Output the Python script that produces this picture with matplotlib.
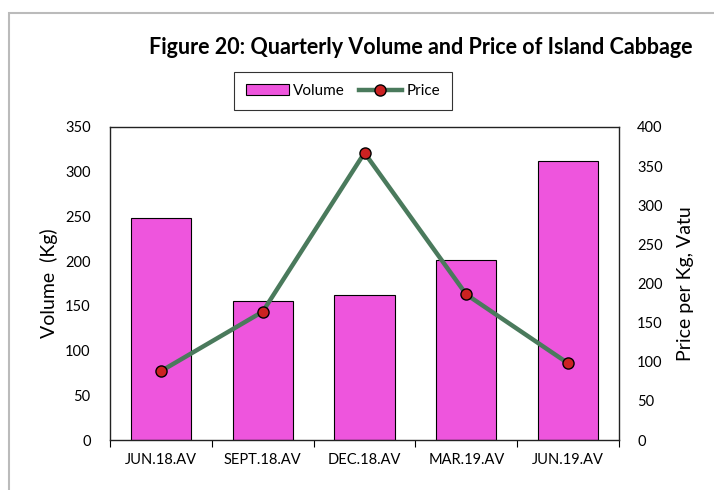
import matplotlib.pyplot as plt
import numpy as np
from matplotlib.patches import Rectangle

# 数据
quarters = ['JUN.18.AV', 'SEPT.18.AV', 'DEC.18.AV', 'MAR.19.AV', 'JUN.19.AV']
volume = [248, 155, 162, 201, 312]
price = [88, 164, 367, 186, 98]

plt.rcParams['font.family'] = ['Lato', 'DejaVu Sans']

fig = plt.figure(figsize=(7.14, 4.9), dpi=100)
ax = fig.add_axes([110 / 714, 50 / 490, 509 / 714, 313 / 490])
x = np.arange(len(quarters))

# 柱状图 (体积)
bars = ax.bar(x, volume, width=0.59, color='#EE55DD', edgecolor='black',
              linewidth=0.8, label='Volume', zorder=2)
ax.set_xlim(-0.5, len(quarters) - 0.5)
ax.set_ylim(0, 350)
ax.set_yticks(np.arange(0, 351, 50))
ax.set_xticks(np.arange(-0.5, len(quarters), 1), minor=False)
ax.set_xticklabels([])
ax.set_xticks(x, minor=True)
ax.set_xticklabels(quarters, minor=True, fontsize=10.5)
ax.tick_params(axis='x', which='minor', length=0, pad=9)
ax.tick_params(axis='x', which='major', length=5, direction='out')
ax.tick_params(axis='y', length=0, labelsize=10.5, pad=14)
ax.set_ylabel('Volume  (Kg)', fontsize=14, labelpad=5)
for s in ax.spines.values():
    s.set_color('#222222')
    s.set_linewidth(1.0)

# 折线 (价格)
ax2 = ax.twinx()
line, = ax2.plot(x, price, color='#4A7A5C', linewidth=3.2, marker='o',
                 markersize=8, markerfacecolor='#CC2222', markeredgecolor='black',
                 markeredgewidth=1.0, label='Price', zorder=3)
ax2.set_ylim(0, 400)
ax2.set_yticks(np.arange(0, 401, 50))
ax2.tick_params(axis='y', length=0, labelsize=10.5, pad=13)
ax2.set_ylabel('Price per Kg, Vatu', fontsize=14, labelpad=10)
for s in ax2.spines.values():
    s.set_visible(False)

# 标题
fig.text(421 / 714, 1 - 47 / 490, 'Figure 20: Quarterly Volume and Price of Island Cabbage',
         ha='center', va='center', fontsize=15.5, fontweight='bold')

# 图例
leg = fig.legend([bars, line], ['Volume', 'Price'], loc='center',
                 bbox_to_anchor=(343 / 714, 1 - 91 / 490), ncol=2, fontsize=11,
                 frameon=True, fancybox=False, edgecolor='black',
                 handlelength=2.8, handletextpad=0.3, columnspacing=0.9,
                 borderpad=0.8, borderaxespad=0)
leg.get_frame().set_linewidth(0.8)

# 外框
fig.patches.append(Rectangle((9 / 714, -0.1), 1.2, 1 - 13 / 490 + 0.1,
                             transform=fig.transFigure, fill=False,
                             edgecolor='#BBBBBB', linewidth=1.5))

plt.savefig('out.png', dpi=100)
